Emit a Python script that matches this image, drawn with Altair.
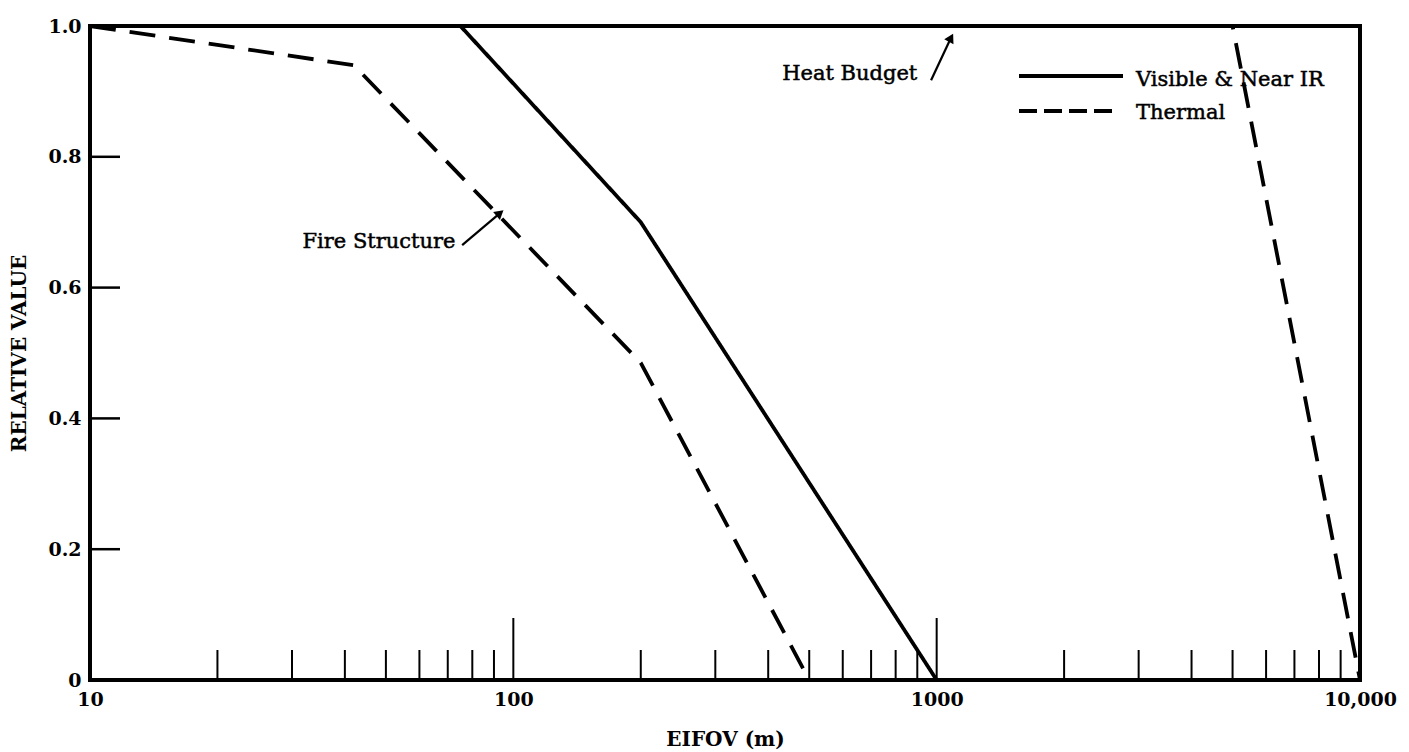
import altair as alt
import pandas as pd

# ---- data ----
vis_fire_x = [10, 75, 200, 1000]
vis_fire_y = [1.0, 1.0, 0.70, 0.0]
therm_fire_x = [10, 42, 200, 500]
therm_fire_y = [1.0, 0.94, 0.485, 0.0]
vis_heat_x = [10, 10000]
vis_heat_y = [1.0, 1.0]
therm_heat_x = [10, 5000, 10000]
therm_heat_y = [1.0, 1.0, 0.0]

bands = ["Visible & Near IR", "Thermal"]

x_label_values = [10, 100, 1000, 10000]
x_label_texts = ["10", "100", "1000", "10,000"]
y_label_values = [0, 0.2, 0.4, 0.6, 0.8, 1.0]
y_label_texts = ["0", "0.2", "0.4", "0.6", "0.8", "1.0"]

y_tick_values = [0.2, 0.4, 0.6, 0.8]
x_minor_ticks = [20, 30, 40, 50, 60, 70, 80, 90,
                 200, 300, 400, 500, 600, 700, 800, 900,
                 2000, 3000, 4000, 5000, 6000, 7000, 8000, 9000]
x_major_ticks = [100, 1000]

annot_texts = ["Fire Structure", "Heat Budget"]
annot_x = [73, 900]
annot_y = [0.670, 0.926]
arrow_x1 = [75.7, 970]
arrow_y1 = [0.665, 0.917]
arrow_x2 = [93.0, 1081]
arrow_y2 = [0.714, 0.982]
arrow_angle = [50, 28]

# ---- build tables ----
rows = []
for name, xs, ys, band in [
    ("vis_fire", vis_fire_x, vis_fire_y, bands[0]),
    ("therm_fire", therm_fire_x, therm_fire_y, bands[1]),
    ("vis_heat", vis_heat_x, vis_heat_y, bands[0]),
    ("therm_heat", therm_heat_x, therm_heat_y, bands[1]),
]:
    for i, (xv, yv) in enumerate(zip(xs, ys)):
        rows.append({"x": xv, "y": yv, "band": band, "curve": name, "i": i})
lines_df = pd.DataFrame(rows)

W, H = 1270, 654
FONT = "DejaVu Serif"
TXT = dict(font=FONT, fontSize=21, color="black", stroke="black", strokeWidth=0.5)

x_expr = " : ".join(
    f"datum.value == {v} ? '{t}'" for v, t in zip(x_label_values, x_label_texts)
) + " : ''"
y_expr = " : ".join(
    f"abs(datum.value - {v}) < 0.001 ? '{t}'" for v, t in zip(y_label_values, y_label_texts)
) + " : ''"

xscale = alt.Scale(type="log", domain=[10, 10000], nice=False)
yscale = alt.Scale(domain=[0, 1.0], nice=False, zero=False)

lines = alt.Chart(lines_df).mark_line(color="black", strokeWidth=3.8, strokeCap="butt").encode(
    x=alt.X("x:Q", scale=xscale, title="EIFOV (m)",
            axis=alt.Axis(values=x_label_values, labelExpr=x_expr, grid=False, ticks=False,
                          domain=False, labelFont=FONT, labelFontSize=19, labelFontWeight="bold",
                          labelColor="black", labelPadding=10, titleFont=FONT, titleFontSize=20,
                          titleFontWeight="bold", titleColor="black", titlePadding=20,
                          labelFlush=False)),
    y=alt.Y("y:Q", scale=yscale, title="RELATIVE VALUE",
            axis=alt.Axis(values=y_label_values, labelExpr=y_expr, grid=False, ticks=False,
                          domain=False, labelFont=FONT, labelFontSize=19, labelFontWeight="bold",
                          labelColor="black", labelPadding=9, titleFont=FONT, titleFontSize=20,
                          titleFontWeight="bold", titleColor="black", titlePadding=18,
                          labelFlush=False)),
    strokeDash=alt.StrokeDash("band:N", scale=alt.Scale(domain=bands, range=[[1, 0], [26, 14]]),
                              legend=None),
    detail="curve:N",
    order="i:Q",
)

ytick_df = pd.DataFrame({"y": y_tick_values})
yticks = alt.Chart(ytick_df).mark_rule(color="black", strokeWidth=2.5).encode(
    y=alt.Y("y:Q", scale=yscale), x=alt.value(0), x2=alt.value(30)
)

xminor_df = pd.DataFrame({"x": x_minor_ticks})
xminor = alt.Chart(xminor_df).mark_rule(color="black", strokeWidth=2).encode(
    x=alt.X("x:Q", scale=xscale), y=alt.value(H), y2=alt.value(H - 30)
)
xmajor_df = pd.DataFrame({"x": x_major_ticks})
xmajor = alt.Chart(xmajor_df).mark_rule(color="black", strokeWidth=2).encode(
    x=alt.X("x:Q", scale=xscale), y=alt.value(H), y2=alt.value(H - 62)
)

annot_df = pd.DataFrame({"t": annot_texts, "x": annot_x, "y": annot_y})
annots = alt.Chart(annot_df).mark_text(align="right", baseline="middle", **TXT).encode(
    x=alt.X("x:Q", scale=xscale), y=alt.Y("y:Q", scale=yscale), text="t:N"
)

arrow_df = pd.DataFrame({"x1": arrow_x1, "y1": arrow_y1, "x2": arrow_x2, "y2": arrow_y2,
                         "a": arrow_angle})
arrow_lines = alt.Chart(arrow_df).mark_rule(color="black", strokeWidth=2.2).encode(
    x=alt.X("x1:Q", scale=xscale), y=alt.Y("y1:Q", scale=yscale),
    x2="x2:Q", y2="y2:Q"
)
arrow_heads = alt.Chart(arrow_df).mark_point(shape="triangle-up", filled=True, color="black",
                                             size=110, opacity=1).encode(
    x=alt.X("x2:Q", scale=xscale), y=alt.Y("y2:Q", scale=yscale),
    angle=alt.Angle("a:Q", scale=None)
)

# manual legend (pixel positions relative to the plot area)
leg_df = pd.DataFrame({"band": bands})
leg_solid = alt.Chart(leg_df).transform_filter(alt.datum.band == bands[0]).mark_rule(
    color="black", strokeWidth=3.8).encode(x=alt.value(929), x2=alt.value(1033), y=alt.value(50))
leg_dash = alt.Chart(leg_df).transform_filter(alt.datum.band == bands[1]).mark_rule(
    color="black", strokeWidth=3.8, strokeDash=[18, 7]).encode(
    x=alt.value(929), x2=alt.value(1027), y=alt.value(85))
leg_t1 = alt.Chart(leg_df).transform_filter(alt.datum.band == bands[0]).mark_text(
    align="left", baseline="middle", **TXT).encode(
    x=alt.value(1046), y=alt.value(54), text="band:N")
leg_t2 = alt.Chart(leg_df).transform_filter(alt.datum.band == bands[1]).mark_text(
    align="left", baseline="middle", **TXT).encode(
    x=alt.value(1046), y=alt.value(87), text="band:N")

chart = alt.layer(
    lines, yticks, xminor, xmajor, annots, arrow_lines, arrow_heads,
    leg_solid, leg_dash, leg_t1, leg_t2
).properties(
    width=W, height=H,
    autosize=alt.AutoSizeParams(type="none"),
    padding={"left": 82, "top": 18, "right": 40, "bottom": 80},
    background="white",
).configure_view(
    stroke="black", strokeWidth=4
)

chart.save("out.html", embed_options={"renderer": "svg", "actions": False})
